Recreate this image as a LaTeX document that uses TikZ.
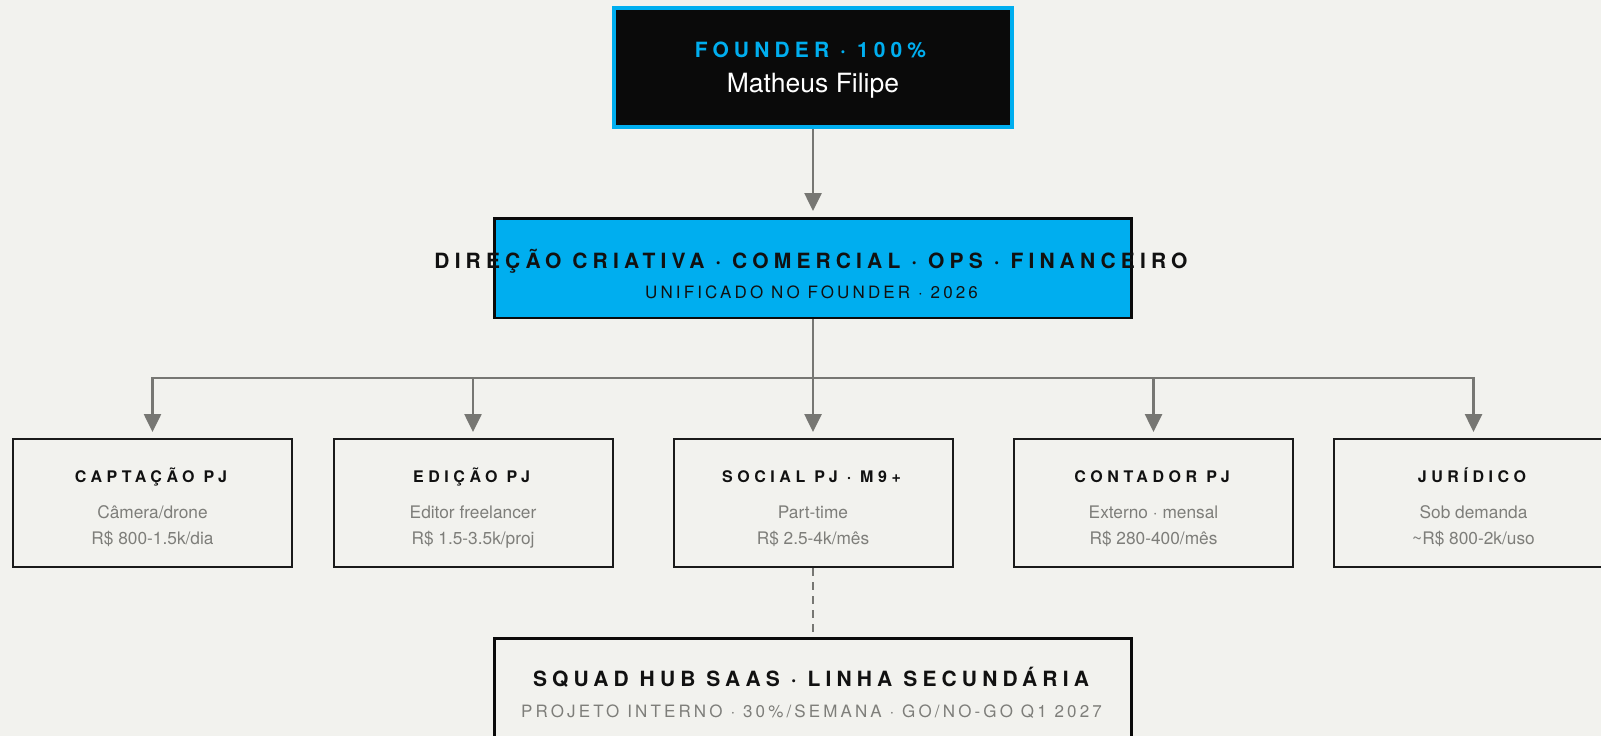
\documentclass[tikz,border=0pt]{standalone}
\usepackage{fontspec}
\setmainfont{TeX Gyre Heros}
\usetikzlibrary{arrows.meta}
\definecolor{bg}{HTML}{F2F2EE}
\definecolor{cyanb}{HTML}{00AEEF}
\definecolor{ink}{HTML}{0A0A0A}
\definecolor{connc}{HTML}{777773}
\definecolor{subgray}{HTML}{7E7E7A}
\definecolor{boxline}{HTML}{1A1A1A}
\definecolor{txt}{HTML}{111111}
\tikzset{
  childbox/.style={draw=boxline, line width=2pt, minimum width=279pt, minimum height=128pt, inner sep=0pt},
  widebox/.style={line width=2.5pt, minimum width=637pt, inner sep=0pt},
  arr/.style={draw=connc, line width=2.6pt, -{Triangle[width=17pt,length=18pt]}, shorten >=6pt},
  plainconn/.style={draw=connc, line width=2.6pt},
  dashconn/.style={draw=connc, line width=2pt, dash pattern=on 7.5pt off 6.5pt},
  bigtitle/.style={anchor=base, inner sep=0pt, xshift=-2pt, text=txt, font=\fontsize{21}{25}\selectfont\bfseries\addfontfeatures{LetterSpace=24.5}},
  subcaps/.style={anchor=base, inner sep=0pt, xshift=-1.5pt, font=\fontsize{17}{20}\selectfont\addfontfeatures{LetterSpace=18.5}},
  childtitle/.style={anchor=base, inner sep=0pt, xshift=-1.5pt, text=txt, font=\fontsize{16}{19}\selectfont\bfseries\addfontfeatures{LetterSpace=28.5}},
  childtext/.style={anchor=base, inner sep=0pt, text=subgray, font=\fontsize{17.3}{20}\selectfont},
}
\begin{document}
\begin{tikzpicture}[x=1pt,y=-1pt]
\useasboundingbox (0,0) rectangle (1601,736);
\fill[bg] (0,0) rectangle (1601,736);

% founder
\node[draw=cyanb, fill=ink, line width=4pt, minimum width=398pt, minimum height=119pt, inner sep=0pt] (founder) at (813,67.5) {};
\node[anchor=base, inner sep=0pt, xshift=-2.5pt, text=cyanb, font=\fontsize{21}{25}\selectfont\bfseries\addfontfeatures{LetterSpace=24.5}] (founderlbl) at (813,57) {FOUNDER · 100\%};
\node[anchor=base, inner sep=0pt, text=white, font=\fontsize{26.5}{30}\selectfont] (foundername) at (813,92) {Matheus Filipe};

% direction
\node[widebox, draw=ink, fill=cyanb, minimum height=99.5pt] (dir) at (813,268) {};
\node[bigtitle] (dirtitle) at (813,268) {DIREÇÃO CRIATIVA · COMERCIAL · OPS · FINANCEIRO};
\node[subcaps, text=txt] (dirsub) at (813,298) {UNIFICADO NO FOUNDER · 2026};

% children
\node[childbox] (c1) at (152.5,503) {};
\node[childbox] (c2) at (473,503) {};
\node[childbox] (c3) at (813,503) {};
\node[childbox] (c4) at (1153.5,503) {};
\node[childbox] (c5) at (1473.5,503) {};

\node[childtitle] (c1t) at (152.5,482) {CAPTAÇÃO PJ};
\node[childtext] (c1a) at (152.5,518) {Câmera/drone};
\node[childtext] (c1b) at (152.5,544) {R\$ 800-1.5k/dia};

\node[childtitle] (c2t) at (473,482) {EDIÇÃO PJ};
\node[childtext] (c2a) at (473,518) {Editor freelancer};
\node[childtext] (c2b) at (473,544) {R\$ 1.5-3.5k/proj};

\node[childtitle] (c3t) at (813,482) {SOCIAL PJ · M9+};
\node[childtext] (c3a) at (813,518) {Part-time};
\node[childtext] (c3b) at (813,544) {R\$ 2.5-4k/mês};

\node[childtitle] (c4t) at (1153.5,482) {CONTADOR PJ};
\node[childtext] (c4a) at (1153.5,518) {Externo · mensal};
\node[childtext] (c4b) at (1153.5,544) {R\$ 280-400/mês};

\node[childtitle] (c5t) at (1473.5,482) {JURÍDICO};
\node[childtext] (c5a) at (1473.5,518) {Sob demanda};
\node[childtext] (c5b) at (1473.5,544) {\textasciitilde R\$ 800-2k/uso};

% squad
\node[widebox, draw=ink, line width=3pt, minimum height=150pt] (squad) at (813,713) {};
\node[bigtitle] (squadtitle) at (813,686) {SQUAD HUB SAAS · LINHA SECUNDÁRIA};
\node[subcaps, text=subgray] (squadsub) at (813,717) {PROJETO INTERNO · 30\%/SEMANA · GO/NO-GO Q1 2027};

% connectors
\draw[arr] (founder.south) -- (dir.north);
\coordinate (bus) at (813,378);
\draw[plainconn] (dir.south) -- (bus);
\foreach \c in {c1,c2,c3,c4,c5} {
  \draw[arr] (bus) -| (\c.north);
}
\draw[dashconn] (c3.south) -- (squad.north);
\end{tikzpicture}
\end{document}
